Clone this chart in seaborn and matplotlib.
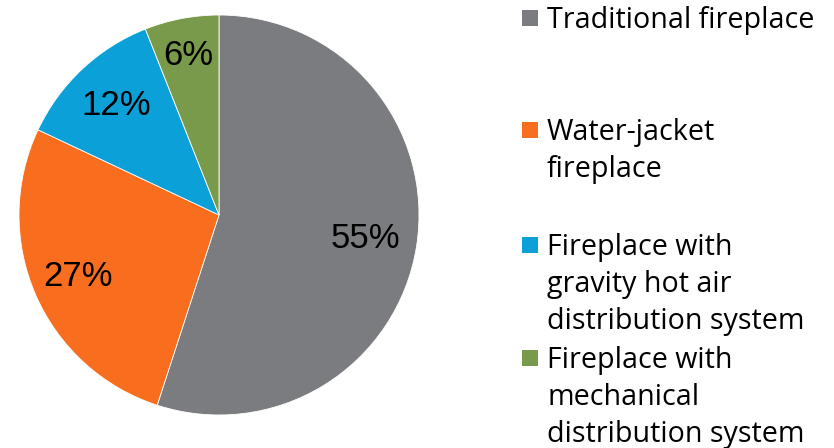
import matplotlib
matplotlib.use("Agg")
import numpy as np
import matplotlib.pyplot as plt
import seaborn as sns
from matplotlib.patches import Rectangle

sns.set_theme(style="white")
plt.rcParams['font.family'] = ['Liberation Sans', 'DejaVu Sans']

categories = ["Traditional fireplace",
              "Water-jacket\nfireplace",
              "Fireplace with\ngravity hot air\ndistribution system",
              "Fireplace with\nmechanical\ndistribution system"]
values = [55, 27, 12, 6]
colors = ["#7B7C80", "#F86D1E", "#0BA1D8", "#7A9A4B"]
label_dist = [0.74, 0.77, 0.75, 0.81]
legend_baseline_px = [28, 140, 255, 368]  # baseline of first text line
line_step_px = 37

W, H = 834, 448
fig = plt.figure(figsize=(W / 100, H / 100), dpi=100)
cx, cy, R = 219, 215, 200
ax = fig.add_axes([(cx - R) / W, (H - cy - R) / H, 2 * R / W, 2 * R / H])
wedges, texts, autotexts = ax.pie(values, colors=colors, startangle=90, counterclock=False,
                                  autopct=lambda p: f"{p:.0f}%", pctdistance=0.75,
                                  wedgeprops=dict(linewidth=0.6, edgecolor="white"),
                                  textprops=dict(fontsize=25, color="black"))
for w, t, d in zip(wedges, autotexts, label_dist):
    ang = np.deg2rad((w.theta1 + w.theta2) / 2)
    t.set_position((d * np.cos(ang), d * np.sin(ang)))
ax.set_xlim(-1, 1)
ax.set_ylim(-1, 1)
ax.set_aspect("equal")
ax.axis("off")

for lab, col, base in zip(categories, colors, legend_baseline_px):
    yc = base - 10
    fig.patches.append(Rectangle((522 / W, 1 - (yc + 8) / H), 16 / W, 16 / H,
                                 transform=fig.transFigure, facecolor=col, edgecolor="none"))
    for i, line in enumerate(lab.split("\n")):
        fig.text(547 / W, 1 - (base + i * line_step_px) / H, line, ha="left", va="baseline",
                 fontsize=20.6, family=["Open Sans", "DejaVu Sans"], color="black")

fig.savefig("out.png", dpi=100)
